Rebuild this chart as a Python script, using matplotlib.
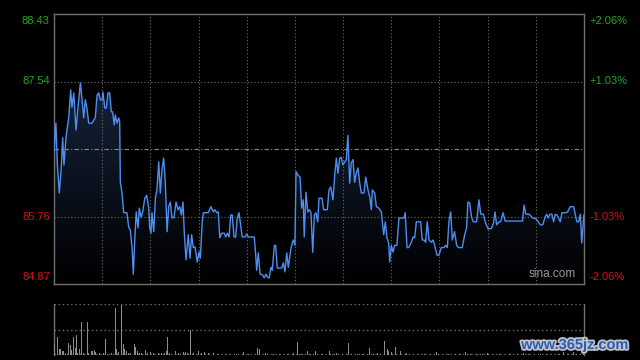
import numpy as np
import matplotlib.pyplot as plt
from matplotlib.colors import LinearSegmentedColormap
import matplotlib.patheffects as pe

# intraday price trace (minutes from open, price)
minutes = [
    0, 1.2, 2.1, 3.3, 4.5, 5.4, 6.2, 7.5, 9.2, 10.4, 11.2, 12.3, 13.7, 14.9,
    16.4, 17.4, 18.5, 19.5, 20.5, 21.6, 23.7, 24.7, 25.7, 26.8, 27.8, 28.8,
    29.9, 30.5, 31.6, 32.6, 33.6, 34.7, 35.7, 36.5, 37.5, 38.2, 39.2, 40.3,
    40.9, 41.3, 42.3, 43.4, 45.4, 46.5, 47.5, 48.6, 49.4, 50.2, 51.2, 52.3,
    53.1, 54.2, 55.2, 56.5, 57.7, 59.0, 59.6, 60.4, 61.0, 62.1, 63.1, 64.1,
    65.2, 66.2, 67.2, 68.3, 69.3, 70.4, 71.4, 72.4, 73.5, 74.7, 76.0, 77.2,
    78.3, 79.3, 80.3, 81.1, 82.2, 83.6, 84.7, 85.7, 86.7, 87.8, 89.2, 90.3,
    91.1, 92.3, 93.0, 96.1, 97.7, 99.2, 100.2, 101.3, 102.3, 103.2, 104.4,
    106.0, 106.9, 107.9, 109.0, 110.0, 111.0, 112.1, 113.1, 114.1, 115.2,
    116.2, 117.2, 118.9, 120.0, 121.0, 124.7, 125.6, 126.2, 127.2, 128.3,
    129.9, 130.9, 132.0, 133.0, 134.0, 135.1, 135.9, 137.2, 138.0, 139.0,
    140.7, 141.8, 142.8, 143.8, 144.9, 145.9, 147.6, 149.0, 150.0, 150.7,
    151.7, 153.2, 154.2, 155.2, 155.8, 156.9, 158.0, 159.0, 160.0, 161.1,
    162.1, 163.1, 164.2, 165.0, 166.9, 167.9, 170.2, 171.2, 172.3, 173.7,
    174.8, 175.8, 176.8, 177.9, 178.9, 179.9, 181.0, 182.0, 183.0, 184.1,
    185.1, 186.2, 187.2, 188.2, 189.3, 190.3, 191.3, 193.0, 194.1, 195.5,
    196.6, 197.6, 198.2, 199.7, 200.7, 202.3, 203.8, 205.3, 206.3, 207.3,
    208.4, 209.0, 210.0, 211.1, 212.1, 213.5, 214.8, 217.9, 218.7, 219.8,
    220.8, 222.5, 223.5, 224.6, 225.6, 228.3, 229.3, 230.4, 231.4, 232.4,
    233.5, 234.9, 236.0, 237.0, 238.5, 239.7, 241.1, 242.8, 243.9, 244.9,
    245.9, 247.0, 248.0, 249.4, 250.7, 252.1, 254.2, 255.7, 256.9, 257.7,
    258.8, 260.0, 261.1, 263.1, 264.6, 265.7, 267.3, 268.8, 270.2, 272.3,
    273.6, 274.6, 275.6, 277.1, 278.1, 279.6, 280.9, 282.3, 291.7, 292.7,
    293.8, 295.9, 298.0, 300.1, 301.5, 302.8, 304.3, 305.7, 306.8, 307.7,
    308.8, 310.0, 311.1, 312.1, 313.2, 314.2, 315.2, 316.3, 318.8, 319.8,
    321.4, 323.6, 324.6, 325.6, 326.7, 327.7, 328.6, 329.9,
]
prices = [
    86.60, 86.99, 86.44, 86.07, 86.40, 86.80, 86.44, 86.81, 87.07, 87.43,
    87.20, 87.39, 86.90, 87.19, 87.52, 87.32, 87.06, 87.30, 87.19, 86.99,
    86.99, 87.03, 87.06, 87.36, 87.39, 87.30, 87.30, 87.40, 87.19, 87.19,
    87.39, 87.39, 87.14, 87.14, 86.97, 87.10, 86.99, 87.06, 87.01, 86.21,
    86.08, 85.81, 85.81, 85.62, 85.58, 85.35, 85.00, 85.42, 85.82, 85.61,
    85.87, 85.75, 85.82, 86.00, 86.04, 85.87, 85.61, 85.54, 85.81, 85.56,
    86.00, 86.11, 86.48, 86.07, 86.37, 86.53, 86.21, 85.56, 85.89, 85.95,
    85.74, 85.75, 85.95, 85.85, 85.89, 85.78, 85.95, 85.56, 85.19, 85.52,
    85.21, 85.52, 85.35, 85.36, 85.16, 85.29, 85.21, 85.69, 85.81, 85.81,
    85.89, 85.82, 85.85, 85.81, 85.82, 85.48, 85.54, 85.54, 85.49, 85.54,
    85.49, 85.78, 85.78, 85.49, 85.49, 85.74, 85.81, 85.65, 85.49, 85.49,
    85.53, 85.49, 85.49, 85.25, 85.05, 85.28, 85.00, 84.99, 84.95, 85.00,
    84.96, 84.95, 85.09, 85.05, 85.38, 85.38, 85.08, 85.08, 85.08, 85.15,
    85.03, 85.28, 85.09, 85.35, 85.45, 85.38, 86.35, 86.31, 86.28, 85.87,
    85.98, 85.49, 86.08, 85.82, 85.85, 85.81, 85.29, 85.78, 85.81, 85.69,
    86.00, 86.00, 85.85, 85.85, 86.11, 86.15, 85.98, 86.31, 86.53, 86.33,
    86.53, 86.54, 86.44, 86.48, 86.51, 86.83, 86.20, 86.47, 86.51, 86.21,
    86.33, 86.40, 86.21, 86.07, 86.07, 86.28, 86.11, 86.02, 85.85, 86.11,
    86.07, 85.89, 85.87, 85.82, 85.52, 85.69, 85.48, 85.41, 85.16, 85.38,
    85.29, 85.38, 85.38, 85.74, 85.74, 85.81, 85.35, 85.35, 85.42, 85.49,
    85.48, 85.69, 85.69, 85.45, 85.45, 85.42, 85.69, 85.45, 85.42, 85.45,
    85.38, 85.25, 85.25, 85.35, 85.35, 85.38, 85.35, 85.69, 85.82, 85.45,
    85.56, 85.38, 85.35, 85.35, 85.52, 85.61, 85.95, 85.94, 85.75, 85.69,
    85.69, 85.98, 85.79, 85.79, 85.67, 85.60, 85.60, 85.67, 85.82, 85.65,
    85.69, 85.69, 85.81, 85.70, 85.70, 85.70, 85.91, 85.79, 85.79, 85.74,
    85.73, 85.69, 85.65, 85.65, 85.75, 85.79, 85.74, 85.79, 85.79, 85.69,
    85.79, 85.78, 85.74, 85.69, 85.81, 85.81, 85.82, 85.89, 85.89, 85.78,
    85.69, 85.69, 85.79, 85.41, 85.78,
]

# volume bars (minute, volume)
vol_minutes = [
    0.6, 2.1, 3.3, 3.9, 5.2, 5.8, 7.3, 8.9, 10.1, 10.6, 12.0, 13.3, 13.9,
    14.9, 15.8, 17.0, 18.2, 19.3, 20.7, 21.4, 23.2, 23.8, 25.1, 26.0, 28.2,
    30.7, 31.9, 33.2, 35.7, 38.2, 38.8, 40.0, 41.9, 43.1, 43.8, 45.0, 46.3,
    47.9, 50.0, 50.6, 51.9, 53.1, 54.4, 56.8, 58.1, 60.0, 61.8, 64.9, 66.8,
    68.7, 69.9, 70.5, 71.8, 75.5, 77.8, 80.5, 81.7, 83.0, 84.9, 86.7, 89.8,
    91.7, 93.6, 96.1, 99.2, 102.7, 106.5, 110.2, 113.9, 117.9, 121.4, 123.9,
    126.6, 127.8, 131.6, 136.5, 140.7, 145.1, 149.0, 151.5, 152.7, 155.0,
    157.7, 160.0, 162.7, 165.0, 166.9, 171.4, 173.7, 176.0, 178.7, 181.2,
    183.2, 185.5, 188.7, 191.8, 196.3, 199.2, 201.3, 203.0, 205.6, 207.5,
    208.1, 210.0, 212.5, 214.2, 215.6, 219.6, 222.9, 226.6, 230.4, 234.7,
    238.3, 242.2, 245.9, 249.7, 253.4, 256.1, 259.6, 263.4, 267.1, 269.8,
    273.3, 277.1, 280.8, 284.5, 288.3, 292.2, 295.7, 299.5, 303.2, 306.9,
    310.7, 314.4, 317.1, 320.6, 323.3, 325.6, 328.1, 329.7,
]
vol_values = [
    1100, 1770, 600, 600, 400, 400, 200, 1170, 1000, 500, 1770, 670, 2000,
    230, 600, 3300, 230, 400, 3300, 230, 400, 400, 500, 300, 170,
    230, 1570, 100, 230, 4700, 600, 300, 5000, 1100, 600, 400, 170,
    170, 1100, 830, 400, 170, 170, 500, 170, 300, 170, 170, 230,
    230, 400, 1800, 170, 400, 170, 300, 300, 170, 2500, 170, 400,
    170, 300, 170, 170, 150, 150, 150, 150, 300, 150, 150,
    700, 600, 230, 150, 150, 150, 230, 1300, 150, 150,
    400, 150, 400, 150, 150, 400, 150, 230, 150, 150,
    1200, 150, 150, 150, 700, 150, 230, 150, 1400, 600,
    400, 300, 800, 150, 400, 230, 150, 150, 150, 150,
    300, 150, 150, 150, 150, 300, 150, 150, 150, 230,
    150, 150, 150, 150, 150, 230, 150, 150, 150, 150,
    150, 150, 300, 150, 300, 150, 150, 200,
]

prev_close = 86.65
y_low, y_high = 84.87, 88.43
price_ticks = [88.43, 87.54, 85.76, 84.87]
pct_labels = ["+2.06%", "+1.03%", "-1.03%", "-2.06%"]
tick_colors = ["#1fa81f", "#1fa81f", "#d81010", "#d81010"]
total_minutes = 330

grid_color = "#6e6e6e"
dots = (0, (1, 2))

fig = plt.figure(figsize=(6.4, 3.6), dpi=100, facecolor="black")
ax = fig.add_axes([54 / 640, 76 / 360, 530 / 640, 270 / 360], facecolor="black")
axv = fig.add_axes([54 / 640, 5 / 360, 530 / 640, 51 / 360], facecolor="black")

ax.set_xlim(0, total_minutes)
ax.set_ylim(y_low, y_high)

# gradient fill below the line
fill = ax.fill_between(minutes, prices, y_low, facecolor="none", edgecolor="none")
cmap = LinearSegmentedColormap.from_list("fade", ["#000000", "#16243c"])
grad = np.linspace(0, 1, 256).reshape(-1, 1)
im = ax.imshow(grad, cmap=cmap, extent=[0, total_minutes, y_low, 87.6],
               origin="lower", aspect="auto", zorder=1)
im.set_clip_path(fill.get_paths()[0], transform=ax.transData)
ax.set_xlim(0, total_minutes)
ax.set_ylim(y_low, y_high)

for gx in range(30, total_minutes, 30):
    ax.axvline(gx, color=grid_color, lw=0.8, ls=dots, zorder=2)
for gy in [87.54, 85.76]:
    ax.axhline(gy, color=grid_color, lw=0.8, ls=dots, zorder=2)
ax.axhline(prev_close, color="#8a8a8a", lw=0.8, ls=(0, (4, 2, 1, 2)), zorder=2)

ax.plot(minutes, prices, color="#4d8ef0", lw=1.0, zorder=3)

for sp in ax.spines.values():
    sp.set_color("#707070")
    sp.set_linewidth(1.0)
ax.set_xticks([])
ax.set_yticks([])

# axis labels drawn as text so top/bottom ones sit inside the frame
offsets = [-5, 0, 0, 5]
for val, pct, col, off in zip(price_ticks, pct_labels, tick_colors, offsets):
    ax.annotate(f"{val:.2f}", xy=(0, val), xycoords=("axes fraction", "data"),
                xytext=(-3, off), textcoords="offset points", ha="right",
                va="center", color=col, fontsize=8, family="Liberation Sans")
    ax.annotate(pct, xy=(1, val), xycoords=("axes fraction", "data"),
                xytext=(4, off), textcoords="offset points", ha="left",
                va="center", color=col, fontsize=8, family="Liberation Sans")

ax.text(0.985, 0.015, "sina.com", transform=ax.transAxes, ha="right",
        va="bottom", color="#9a9a9a", fontsize=8.5, family="Liberation Sans")

# volume panel
vol_top = 5100
axv.bar(vol_minutes, vol_values, width=0.6, color="#8c8c8c", zorder=3)
axv.set_xlim(0, total_minutes)
axv.set_ylim(0, vol_top)
for gy in [vol_top, vol_top / 2, 60]:
    axv.axhline(gy, color=grid_color, lw=1.0, ls=dots, zorder=2)
axv.spines["top"].set_visible(False)
axv.spines["bottom"].set_visible(False)
for side in ["left", "right"]:
    axv.spines[side].set_color("#707070")
    axv.spines[side].set_linewidth(1.0)
axv.set_xticks([])
axv.set_yticks([])

fig.text(575 / 640, 1 - 345 / 360, "www.365jz.com", ha="center", va="center",
         color="#2c5cb0", fontsize=10.5, fontweight="bold",
         family="Liberation Sans",
         path_effects=[pe.withStroke(linewidth=2.5, foreground="#c0c4cc")])

fig.savefig("out.png", dpi=100, facecolor="black")
